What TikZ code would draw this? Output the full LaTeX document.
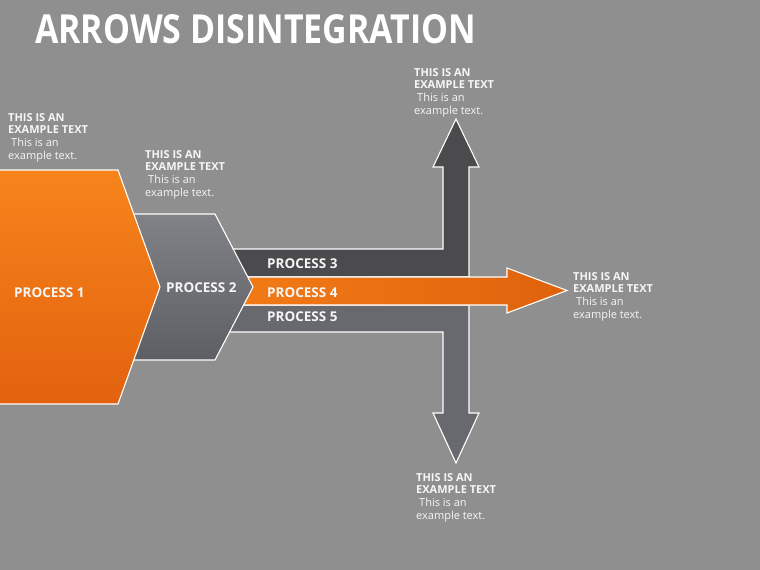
\documentclass[tikz,border=0pt]{standalone}
\usepackage{graphicx}
\usepackage{fontspec}
\setmainfont{Open Sans}
\definecolor{bg}{HTML}{8F8F8F}
\definecolor{darkg}{HTML}{4B4B4E}
\definecolor{midg}{HTML}{68696E}
\definecolor{gtop}{HTML}{818287}
\definecolor{gbot}{HTML}{5E5F64}
\definecolor{ortop}{HTML}{F7841C}
\definecolor{orbot}{HTML}{E2620E}
\definecolor{orleft}{HTML}{F47D17}
\definecolor{orright}{HTML}{DF620C}
\definecolor{txt}{HTML}{F6F6F6}
\begin{document}
\begin{tikzpicture}[x=1pt,y=-1pt,
  outl/.style={draw=white,line width=1.1pt,line join=miter},
  plabel/.style={inner sep=0pt,text=txt,font=\fontsize{13.5}{14}\selectfont\bfseries},
  tblock/.style={inner sep=0pt,text=txt,align=left,anchor=north west,font=\fontsize{11}{12.7}\selectfont}]
\fill[bg] (0,0) rectangle (760,570);
\useasboundingbox (0,0) rectangle (760,570);
% title
\node[inner sep=0pt,anchor=north west,text=white] (title) at (35,14) {\resizebox{441pt}{29pt}{\bfseries ARROWS DISINTEGRATION}};
% process 3 (up)
\path[outl,fill=darkg] (200,249) -- (443,249) -- (443,167) -- (433,167) -- (456,119) -- (479,167) -- (469,167) -- (469,277) -- (200,277) -- cycle;
% process 5 (down)
\path[outl,fill=midg] (200,305) -- (469,305) -- (469,413) -- (479,413) -- (456,463) -- (433,413) -- (443,413) -- (443,332) -- (200,332) -- cycle;
% process 4 (right)
\path[outl,left color=orleft,right color=orright] (200,277) -- (507,277) -- (507,268) -- (567,290.5) -- (507,313) -- (507,305) -- (200,305) -- cycle;
% process 2
\path[outl,top color=gtop,bottom color=gbot] (100,214) -- (215,214) -- (253,287) -- (215,360) -- (100,360) -- cycle;
% process 1
\path[outl,top color=ortop,bottom color=orbot] (-2,170) -- (118,170) -- (160,287) -- (118,404) -- (-2,404) -- cycle;
% labels
\node[plabel,anchor=west] (p1) at (14,293) {PROCESS 1};
\node[plabel,anchor=west] (p2) at (166,288) {PROCESS 2};
\node[plabel,anchor=west] (p3) at (267,264) {PROCESS 3};
\node[plabel,anchor=west] (p4) at (267,293) {PROCESS 4};
\node[plabel,anchor=west] (p5) at (267,317) {PROCESS 5};
% text blocks
\node[tblock] (t1) at (8,113) {\textbf{THIS IS AN}\\\textbf{EXAMPLE TEXT}\\\hspace*{3pt}This is an\\example text.};
\node[tblock] (t2) at (145,150) {\textbf{THIS IS AN}\\\textbf{EXAMPLE TEXT}\\\hspace*{3pt}This is an\\example text.};
\node[tblock] (t3) at (414,68) {\textbf{THIS IS AN}\\\textbf{EXAMPLE TEXT}\\\hspace*{3pt}This is an\\example text.};
\node[tblock] (t4) at (573,272) {\textbf{THIS IS AN}\\\textbf{EXAMPLE TEXT}\\\hspace*{3pt}This is an\\example text.};
\node[tblock] (t5) at (416,473) {\textbf{THIS IS AN}\\\textbf{EXAMPLE TEXT}\\\hspace*{3pt}This is an\\example text.};
\end{tikzpicture}
\end{document}
